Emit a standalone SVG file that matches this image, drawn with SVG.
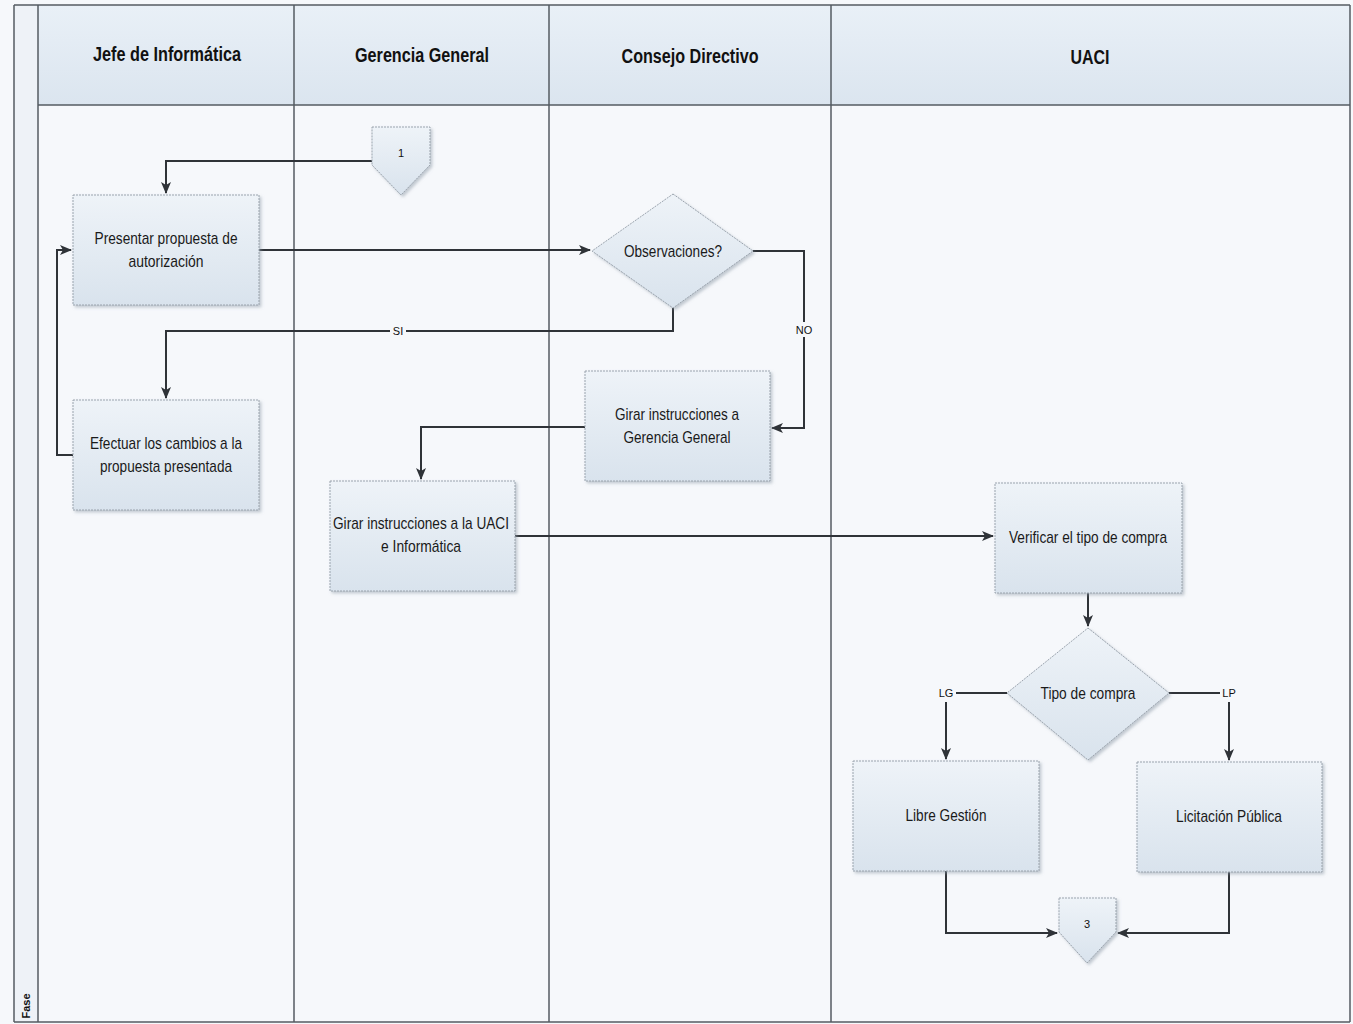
<svg xmlns="http://www.w3.org/2000/svg" width="1353" height="1024" viewBox="0 0 1353 1024">
<defs>
<linearGradient id="hdr" x1="0" y1="0" x2="0" y2="1"><stop offset="0" stop-color="#e9f0f7"/><stop offset="1" stop-color="#dbe5ef"/></linearGradient>
<linearGradient id="box" x1="0" y1="0" x2="0" y2="1"><stop offset="0" stop-color="#eef3f8"/><stop offset="1" stop-color="#d9e3ed"/></linearGradient>
<filter id="sh" x="-10%" y="-10%" width="130%" height="130%"><feDropShadow dx="2" dy="2" stdDeviation="1.5" flood-color="#8a97a5" flood-opacity="0.5"/></filter>
<marker id="ar" markerWidth="12" markerHeight="10" refX="11" refY="5" orient="auto" markerUnits="userSpaceOnUse"><path d="M0,0 L12,5 L0,10 L3,5 Z" fill="#2f3338"/></marker>
</defs>
<style>
.t{font-family:"Liberation Sans",Arial,sans-serif;font-size:17px;fill:#1a1a1a;text-anchor:middle}
.h{font-family:"Liberation Sans",Arial,sans-serif;font-size:20px;font-weight:bold;fill:#111;text-anchor:middle}
.l{font-family:"Liberation Sans","DejaVu Sans",sans-serif;font-size:11px;fill:#111;text-anchor:middle}
.n{fill:url(#box);stroke:#9aa3ad;stroke-width:1;stroke-dasharray:2 1;filter:url(#sh)}
.c{fill:none;stroke:#2f3338;stroke-width:2}
.ln{stroke:#555b62;stroke-width:1.5;fill:none}
</style>
<rect x="0" y="0" width="1353" height="1024" fill="#f6f8fb"/>
<g id="pool">
<rect x="14" y="5" width="24" height="1017" fill="#eef2f7"/>
<rect x="38" y="5" width="1312" height="100" fill="url(#hdr)"/>
<line x1="14" y1="5" x2="1350" y2="5" class="ln"/>
<line x1="38" y1="105" x2="1350" y2="105" class="ln"/>
<line x1="14" y1="1022" x2="1350" y2="1022" class="ln"/>
<line x1="14" y1="5" x2="14" y2="1022" class="ln"/>
<line x1="38" y1="5" x2="38" y2="1022" class="ln"/>
<line x1="294" y1="5" x2="294" y2="1022" class="ln"/>
<line x1="549" y1="5" x2="549" y2="1022" class="ln"/>
<line x1="831" y1="5" x2="831" y2="1022" class="ln"/>
<line x1="1350" y1="5" x2="1350" y2="1022" class="ln"/>
<text class="h" x="167" y="61" textLength="148" lengthAdjust="spacingAndGlyphs">Jefe de Informática</text>
<text class="h" x="422" y="62" textLength="134" lengthAdjust="spacingAndGlyphs">Gerencia General</text>
<text class="h" x="690" y="63" textLength="137" lengthAdjust="spacingAndGlyphs">Consejo Directivo</text>
<text class="h" x="1090" y="64" textLength="39" lengthAdjust="spacingAndGlyphs">UACI</text>
<text class="l" transform="translate(30,1006) rotate(-90)" font-weight="bold">Fase</text>
</g>
<g id="connectors">
<polyline class="c" points="372,161 166,161 166,193" marker-end="url(#ar)"/>
<polyline class="c" points="259,250 590,250" marker-end="url(#ar)"/>
<polyline class="c" points="673,308 673,331 166,331 166,398" marker-end="url(#ar)"/>
<polyline class="c" points="753,251 804,251 804,428 772,428" marker-end="url(#ar)"/>
<polyline class="c" points="73,455 57,455 57,250 71,250" marker-end="url(#ar)"/>
<polyline class="c" points="585,427 421,427 421,479" marker-end="url(#ar)"/>
<polyline class="c" points="515,536 993,536" marker-end="url(#ar)"/>
<polyline class="c" points="1088,593 1088,626" marker-end="url(#ar)"/>
<polyline class="c" points="1007,693 956,693"/>
<polyline class="c" points="946,702 946,759" marker-end="url(#ar)"/>
<polyline class="c" points="1169,693 1220,693"/>
<polyline class="c" points="1229,702 1229,760" marker-end="url(#ar)"/>
<polyline class="c" points="946,871 946,933 1057,933" marker-end="url(#ar)"/>
<polyline class="c" points="1229,872 1229,933 1118,933" marker-end="url(#ar)"/>
<rect x="390" y="324" width="16" height="14" fill="#f6f8fb"/>
<text class="l" x="398" y="335">SI</text>
<rect x="793" y="322" width="22" height="15" fill="#f6f8fb"/>
<text class="l" x="804" y="334">NO</text>
<text class="l" x="946" y="697">LG</text>
<text class="l" x="1229" y="697">LP</text>
</g>
<g id="off1"><polygon class="n" points="372,127 430,127 430,165 401,195 372,165"/><text class="l" x="401" y="157">1</text></g>
<g id="presentar"><rect class="n" x="73" y="195" width="186" height="110"/><text class="t" x="166" y="244" textLength="143" lengthAdjust="spacingAndGlyphs">Presentar propuesta de</text><text class="t" x="166" y="267" textLength="75" lengthAdjust="spacingAndGlyphs">autorización</text></g>
<g id="observaciones"><polygon class="n" points="673,194 753,251 673,308 592,251"/><text class="t" x="673" y="257" textLength="98" lengthAdjust="spacingAndGlyphs">Observaciones?</text></g>
<g id="efectuar"><rect class="n" x="73" y="400" width="186" height="110"/><text class="t" x="166" y="449" textLength="152" lengthAdjust="spacingAndGlyphs">Efectuar los cambios a la</text><text class="t" x="166" y="472" textLength="132" lengthAdjust="spacingAndGlyphs">propuesta presentada</text></g>
<g id="girarGG"><rect class="n" x="585" y="371" width="185" height="110"/><text class="t" x="677" y="420" textLength="124" lengthAdjust="spacingAndGlyphs">Girar instrucciones a</text><text class="t" x="677" y="443" textLength="107" lengthAdjust="spacingAndGlyphs">Gerencia General</text></g>
<g id="girarUACI"><rect class="n" x="330" y="481" width="185" height="110"/><text class="t" x="421" y="529" textLength="176" lengthAdjust="spacingAndGlyphs">Girar instrucciones a la UACI</text><text class="t" x="421" y="552" textLength="80" lengthAdjust="spacingAndGlyphs">e Informática</text></g>
<g id="verificar"><rect class="n" x="995" y="483" width="187" height="110"/><text class="t" x="1088" y="543" textLength="158" lengthAdjust="spacingAndGlyphs">Verificar el tipo de compra</text></g>
<g id="tipo"><polygon class="n" points="1088,628 1169,693 1088,760 1007,693"/><text class="t" x="1088" y="699" textLength="95" lengthAdjust="spacingAndGlyphs">Tipo de compra</text></g>
<g id="libre"><rect class="n" x="853" y="761" width="186" height="110"/><text class="t" x="946" y="821" textLength="81" lengthAdjust="spacingAndGlyphs">Libre Gestión</text></g>
<g id="licitacion"><rect class="n" x="1137" y="762" width="185" height="110"/><text class="t" x="1229" y="822" textLength="106" lengthAdjust="spacingAndGlyphs">Licitación Pública</text></g>
<g id="off3"><polygon class="n" points="1059,898 1116,898 1116,932 1087,963 1059,932"/><text class="l" x="1087" y="928">3</text></g>
</svg>
